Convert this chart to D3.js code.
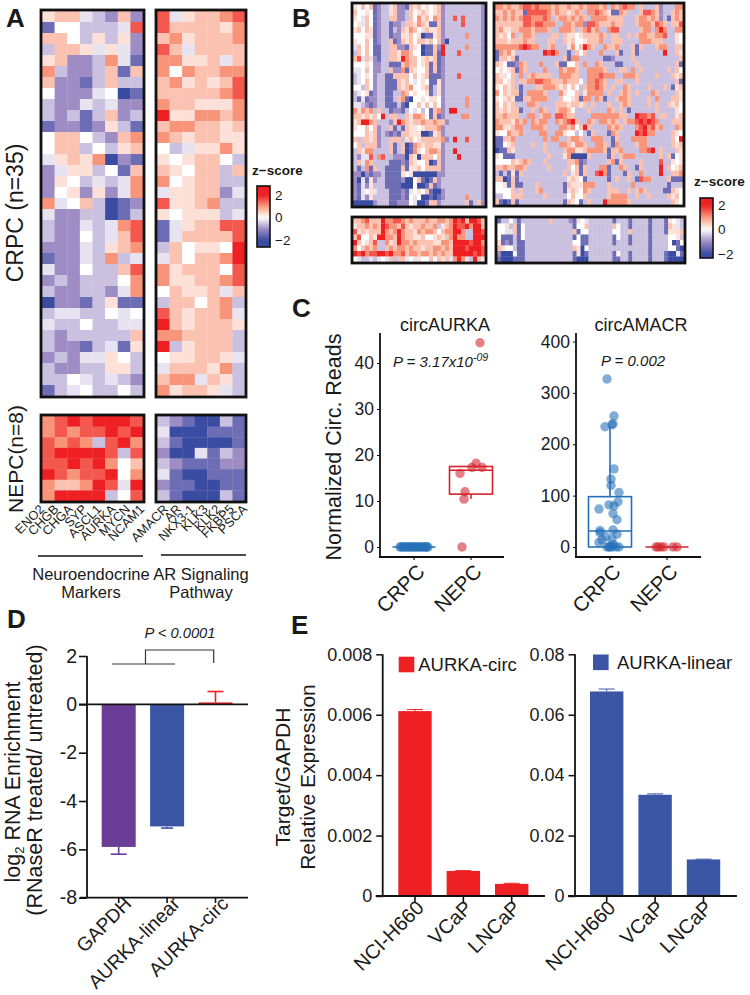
<!DOCTYPE html>
<html><head><meta charset="utf-8">
<script src="https://cdn.jsdelivr.net/npm/d3@7"></script>
<style>html,body{margin:0;padding:0;background:#fff}svg{display:block}text{font-family:"Liberation Sans",Arial,sans-serif;fill:#1a1a1a}</style>
</head><body><svg id="c" width="750" height="995"></svg>
<script>
// z-score levels addressed by one character per heat-map cell (0..a)
const zLevels=[-2,-1.5,-1.0,-0.55,-0.25,0,0.3,0.6,1.05,1.55,2];
const neGenes=["ENO2","CHGB","CHGA","SYP","ASCL1","AURKA","MYCN","NCAM1"];
const arGenes=["AMACR","AR","NKX3-1","KLK3","KLK2","FKBP5","PSCA"];
const aCrpcNe=["67743272","15533349","77536362","37764642","67223841","83223717","72213733","52224501","32243422","32313723","12212631","57753278","57735367","46768021","24663517","26534348","25626248","84573012","42233013","32243489","32253479","22243678","12243834","42253379","23233358","32233248","02213611","34433545","43353344","32333337","32213416","23244653","32233663","33543432","13453353"];
const aCrpcAr=["9467789","9777768","7867778","9747777","8866747","8587788","7867679","7777789","8776668","a668878","7887767","8767766","5346686","6567753","7657737","8567733","4667724","9667833","6566634","1467799","1477779","375665a","475778a","8677759","8667789","5766747","3775783","9767784","a767776","8877773","a367773","5667764","4777683","7884763","8677643"];
const aNepcNe=["89a9aaa9","89899a9a","98983 9a8","9aaaa939","99a9a857","a9899a58","8778a94a","8aaaa359"];
const aNepcAr=["3210031","4000111","3100001","2004132","3211122","4100111","2110011","3100031"];
const bCrpcL=["65757 12336 72217 67565 67233 33333 332","75565 12336 72237 56765 67233 33333 332","65475 12337 72237 58675 87233 93933 332","56475 12331 22377 68761 17233 33933 332","67576 12331 32768 75676 67233 33333 332","55566 12331 22667 56011 67233 33383 332","65575 12337 12767 57767 57203 33333 332","47575 11337 72217 65011 72a33 33383 332","37575 11337 76887 55011 71a33 39333 332","79474 21337 76a87 75676 71233 33333 332","55565 22331 11787 75671 71233 33333 332","44575 22337 22817 65571 71233 33333 332","34565 23311 77775 75671 11233 39333 332","34575 23311 17675 45651 16233 33333 332","55375 23311 17678 55671 36233 33333 332","34561 23311 33875 65561 36233 33333 332","31412 23311 37810 55656 65233 33383 332","44321 23311 13105 57575 75233 33383 332","86878 37331 22135 45351 7823a a3333 332","77676 75a37 73376 88751 71233 33883 332","67aa8 73332 7a876 77877 87723 33333 332","65575 72337 13176 65677 78233 33333 332","55576 72321 21776 66001 67233 33333 332","73776 72337 77367 56777 77823 a3393 332","57377 72337 13701 87677 66233 33333 332","37688 33337 13701 86578 87233 a3333 332","32449 38933 22207 60777 57233 3a333 332","37487 33331 11217 65570 17233 33333 332","31381 73311 11716 67577 77233 33333 332","22021 22311 11656 00000 02233 33333 332","20416 23311 11200 57101 72333 33333 332","21426 33311 11000 50017 12333 33333 332","21456 43331 11214 56571 00233 33333 332","21426 33331 11215 45001 01233 33383 332","00000 23331 12225 40017 72333 33371 372"];
const bNepcL=["77897 77a88 99878 77787 78878 a9a7a a97","67787 87a98 87976 77877 83678 a99a8 aa7","96767 77a87 8a877 68788 75788 aa833 aa9","79557 6aa88 7a877 66755 67678 a8833 aaa","a7567 93386 7a887 87777 66887 aaaa9 aa8","85787 83378 78878 77677 88787 aaa9a aa9","a9a89 9aa9a 88978 87887 87877 aaaaa 9a9","54334 34547 37745 46557 57674 8a843 a74"];
const bCrpcR=["88787 78998 98887 87787 78788 87838 78988 37333 72333 88","77878 77199 99987 87767 87388 98761 18733 37998 72337 87","87878 78998 88983 78878 78738 88877 77333 78878 72317 87","77777 77998 99888 33887 88299 87778 77333 78887 98737 79","78667 78887 88873 38887 37897 83389 93333 37883 8a833 88","76758 37887 33337 73766 56777 78737 73373 78877 88933 65","77767 77877 33377 33767 55677 78337 77333 38887 77333 65","88888 89a98 83378 33368 57a87 33877 83337 17333 78833 77","18786 33333 33a9a 83313 75733 38333 71337 13333 33a33 76","17767 13333 33333 33718 83333 33112 33337 33333 33333 37","76511 28733 38333 71155 73833 87333 11333 73333 33333 71","56567 18733 33833 38788 73388 88733 37738 37333 33373 75","76457 38378 77773 38887 73388 89888 33888 73333 73337 67","77567 37788 99887 77877 75388 98733 77333 73333 33333 71","65767 31333 77888 76757 53788 98737 33873 33373 33731 67","85767 71388 88733 38655 73688 88373 37873 73338 73333 76","65676 11778 88833 37556 71883 87133 78873 33373 83337 76","75767 33388 73333 77767 76737 33373 37873 33373 73376 75","76767 71337 38733 78875 33373 33387 37313 33333 73333 65","77877 73388 37883 99877 33338 88888 87733 a9989 37733 67","87776 87838 78833 8789a 73387 38878 73788 9a9a9 83337 77","88667 88338 88733 38878 57a73 33387 87333 89a89 78333 87","65587 78333 38833 88655 35317 33318 73333 a9a88 33337 65","11778 33333 33838 83378 87338 88331 73338 88833 33337 5a","11567 33337 33733 38876 88733 88731 83333 78833 33337 67","01176 33333 33733 33788 66788 88717 78333 3889a 37333 76","65111 33333 33373 33680 00073 33317 37888 33333 37371 56","55557 67873 33733 33377 81233 33378 17333 37333 39336 56","77877 88733 33373 33375 71733 38813 38733 17333 3a375 67","31316 17333 33333 33736 71733 9a813 33173 38333 3a337 78","77017 13333 33333 33367 65133 33313 73373 19883 33371 11","55617 11333 73333 33176 66888 33373 33338 33333 33313 33","55557 37333 78333 33167 65873 33377 73373 78733 33117 65","33557 77333 33733 33357 55733 33378 88833 73373 33376 75","71017 13333 33333 33176 51373 33a88 88873 33333 33337 65"];
const bNepcR=["13353 13333 33373 33321 65433 33331 33313 33313 33165 43","55637 15333 33333 33331 55733 33337 53313 33313 33176 43","55447 15333 33333 33337 15533 33335 53373 33313 33166 67","51113 15333 33333 33331 51133 33331 53313 33313 33355 63","61213 11333 33333 33335 51133 33331 33313 33313 33350 15","76553 11333 33333 33337 60533 33333 33333 33313 33355 10","20005 11333 33333 33331 60133 33331 53313 33313 33100 41","10001 11333 33333 33331 00033 33331 13313 33313 33100 00"];
const boxGroups=["CRPC","NEPC"];
const auNepc=[44.4,18.2,17.3,17.3,16,12,10.4,0];
const auNepcJitter=[9,5,1,11,-11,-6,-7,-9];
const auCrpcJitter=[-14,-13,-11,-10,-8,-7,-5,-4,-2,-1,0,2,3,5,6,8,9,11,12,13,14];
const amCrpc=[327,255,240,238,234,152,132,120,106,88,82,80,74,65,53,33,32,28,25,20,15,14,9,5,0,0,0,0,0,0];
const amCrpcJitter=[-3,4,3,2,-5,4,1,1,9,8,-1,4,-11,3,7,3,-10,-10,7,-4,2,-8,-11,3,-3,-1,0,2,6,9];
const amNepcJitter=[-11,-9,-6,-3,6,10];
const auBoxes=[{q1:0,med:0,q3:0,lo:0,hi:0},{q1:11.5,med:16.7,q3:17.5,lo:10.5,hi:17.5}];
const amBoxes=[{q1:0,med:31,q3:98,lo:0,hi:235},{q1:0,med:0,q3:0,lo:0,hi:0}];
const dCats=["GAPDH","AURKA-linear","AURKA-circ"];
const dVals=[-5.9,-5.05,0.08];
const dErr=[-6.2,-5.12,0.53];
const dTicks=[2,0,-2,-4,-6,-8];
const eCats=["NCI-H660","VCaP","LNCaP"];
const eCirc=[0.00612,0.00083,0.0004];
const eCircErr=[0.00617,0.00084,0.00042];
const eLin=[0.0677,0.0335,0.0121];
const eLinErr=[0.0685,0.0338,0.0122];
const eCircTicks=[0,0.002,0.004,0.006,0.008];
const eLinTicks=[0,0.02,0.04,0.06,0.08];

const RED="#ee2024",PUR="#6a3d96",BLU="#3a55a4",CB="#2470b8",CR="#d3232c";
const svg=d3.select("#c");
const color=d3.scaleLinear().domain([-2,-1,0,1,2]).range(["#3a4ca2","#9e8dc5","#ffffff","#f99a7e","#ee2024"]).clamp(true);
const parse=rows=>rows.map(r=>r.replace(/ /g,"").split("").map(c=>zLevels[parseInt(c,16)]));

function heat(rows,x0,x1,y0,y1){
  const m=parse(rows),nc=d3.max(m,r=>r.length);
  const x=d3.scaleBand(d3.range(nc),[x0,x1]),y=d3.scaleBand(d3.range(m.length),[y0,y1]);
  const g=svg.append("g");
  m.forEach((r,i)=>g.selectAll(null).data(r).join("rect").attr("x",(d,j)=>x(j)).attr("y",y(i))
    .attr("width",x.bandwidth()+.3).attr("height",y.bandwidth()+.3).attr("fill",d=>color(d)));
  g.append("rect").attr("x",x0-1).attr("y",y0-1).attr("width",x1-x0+2).attr("height",y1-y0+2)
   .attr("fill","none").attr("stroke","#111").attr("stroke-width",2.8);
}
heat(aCrpcNe,42,143,11,396);
heat(aCrpcAr,157,245,11,396);
heat(aNepcNe.map(s=>s.replace(" ","")),42,143,416,501);
heat(aNepcAr,157,245,416,501);
heat(bCrpcL,353,485,4,206);
heat(bCrpcR,495,683,4,205);
heat(bNepcL,353,485,218,262);
heat(bNepcR,497,684,218,262);

function txt(x,y,s,o={}){
  const t=svg.append("text").attr("x",x).attr("y",y).text(s)
    .attr("font-size",o.size||16).attr("text-anchor",o.anchor||"middle");
  if(o.weight)t.attr("font-weight",o.weight);
  if(o.italic)t.attr("font-style","italic");
  if(o.rot!==undefined)t.attr("transform",`rotate(${o.rot} ${x} ${y})`);
  return t;
}
[["A",6,27],["B",292,27],["C",292,317],["D",7,628],["E",291,634]].forEach(d=>txt(d[1],d[2],d[0],{size:26,weight:700,anchor:"start"}));
txt(23,213,"CRPC (n=35)",{size:23,rot:-90});
txt(23,459,"NEPC(n=8)",{size:21,rot:-90});
const neX=d3.scalePoint(neGenes,[45,145]),arX=d3.scalePoint(arGenes,[169,248]);
neGenes.forEach(g=>txt(neX(g),510,g,{size:12.8,anchor:"end",rot:-45}));
arGenes.forEach(g=>txt(arX(g),510,g,{size:12.8,anchor:"end",rot:-45}));
const line=(a,b,c,d,col="#111",w=1.5)=>svg.append("line").attr("x1",a).attr("y1",b).attr("x2",c).attr("y2",d).attr("stroke",col).attr("stroke-width",w);
line(38,556,143,556);line(161,555,246,555);
txt(91,580,"Neuroendocrine",{size:16.5});txt(91,598,"Markers",{size:16.5});
txt(201,580,"AR Signaling",{size:16.5});txt(201,598,"Pathway",{size:16.5});

// colour bars
const defs=svg.append("defs");
function cbar(id,x,y0,y1,zTop,zBot,tx,ty){
  const z=d3.scaleLinear([zTop,zBot],[y0,y1]);
  const gr=defs.append("linearGradient").attr("id",id).attr("x1",0).attr("x2",0).attr("y1",0).attr("y2",1);
  d3.range(0,1.001,.05).forEach(t=>gr.append("stop").attr("offset",t).attr("stop-color",color(zTop+(zBot-zTop)*t)));
  svg.append("rect").attr("x",x).attr("y",y0).attr("width",13).attr("height",y1-y0).attr("fill",`url(#${id})`).attr("stroke","#111").attr("stroke-width",1.6);
  const a=svg.append("g").attr("transform",`translate(${x+13},0)`).call(d3.axisRight(z).tickValues([2,0,-2]).tickSize(0).tickPadding(5).tickFormat(d=>d<0?"\u2212"+(-d):d));
  a.select(".domain").remove();a.selectAll("text").attr("font-size",13.5);
  txt(tx,ty,"z\u2212score",{size:13.5,weight:700,anchor:"start"});
}
cbar("cbA",257,186,247,2.8,-2.6,252,175);
cbar("cbB",700,198,258,2.6,-2.35,694,186);

// panel C
function boxPanel(o){
  const y=d3.scaleLinear(o.dom,[547,o.top]);
  const x=d3.scalePoint(boxGroups,[o.xa,o.xb]);
  const ax=svg.append("g").attr("transform",`translate(${o.x0},0)`).call(d3.axisLeft(y).tickValues(o.ticks).tickSize(3).tickPadding(3));
  ax.select(".domain").remove();ax.selectAll("text").attr("font-size",17.5);ax.selectAll("line").attr("stroke","#111");
  line(o.x0,333,o.x0,557,"#111",1.8);line(o.x0-1,557,o.x1,557,"#111",1.8);
  boxGroups.forEach(g=>{line(x(g),557,x(g),560,"#111",1.2);
    txt(x(g)+12,573,g,{size:20.5,anchor:"end",rot:-45});});
  o.boxes.forEach((b,i)=>{
    const cx=x(boxGroups[i]),c=[CB,CR][i];
    const hw=21.5;
    svg.append("rect").attr("x",cx-hw).attr("width",2*hw).attr("y",y(b.q3)).attr("height",Math.max(0,y(b.q1)-y(b.q3))).attr("fill","none").attr("stroke",c).attr("stroke-width",1.6);
    line(cx-hw,y(b.med),cx+hw,y(b.med),c,1.6);
    line(cx,y(b.q3),cx,y(b.hi),c,1.6);line(cx,y(b.q1),cx,y(b.lo),c,1.6);
  });
  o.pts.forEach(p=>{
    const cx=x(p.g),c=p.g=="CRPC"?CB:CR;
    svg.append("g").selectAll("circle").data(p.v).join("circle").attr("cx",(d,i)=>cx+p.j[i]).attr("cy",d=>y(d)).attr("r",4.7).attr("fill",c).attr("fill-opacity",.58);
  });
  txt((o.xa+o.xb)/2+o.titleDx,331,o.title,{size:18});
}
boxPanel({dom:[0,40],top:363,ticks:[0,10,20,30,40],x0:380,x1:504,xa:414,xb:471,boxes:auBoxes,title:"circAURKA",titleDx:2.5,
  pts:[{g:"CRPC",v:auCrpcJitter.map(()=>0),j:auCrpcJitter},{g:"NEPC",v:auNepc,j:auNepcJitter}]});
boxPanel({dom:[0,400],top:341.5,ticks:[0,100,200,300,400],x0:576,x1:701,xa:610,xb:667,boxes:amBoxes,title:"circAMACR",titleDx:2.5,
  pts:[{g:"CRPC",v:amCrpc,j:amCrpcJitter},{g:"NEPC",v:amNepcJitter.map(()=>0),j:amNepcJitter}]});
txt(341,447,"Normalized Circ. Reads",{size:21.5,rot:-90});
const p1=txt(393,367,"P = 3.17x10",{size:15,anchor:"start",italic:true});
p1.append("tspan").attr("dy",-6).attr("font-size",10.5).text("-09");
txt(601,366,"P = 0.002",{size:15,anchor:"start",italic:true});

// panel D
const dy=d3.scaleLinear([2,-8],[656,897.7]);
const dx=d3.scalePoint(dCats,[118.7,215.5]);
const dax=svg.append("g").attr("transform","translate(87,0)").call(d3.axisLeft(dy).tickValues(dTicks).tickSize(8).tickPadding(2).tickFormat(d=>d));
dax.select(".domain").remove();dax.selectAll("line").attr("stroke","#111").attr("stroke-width",1.6);dax.selectAll("text").attr("font-size",19.5);
const dCol=[PUR,BLU,RED];
dCats.forEach((c,i)=>{
  const cx=dx(c),v=dVals[i],hw=17;
  svg.append("rect").attr("x",cx-hw).attr("width",2*hw).attr("y",Math.min(dy(v),dy(0))).attr("height",Math.abs(dy(v)-dy(0))).attr("fill",dCol[i]);
  line(cx,dy(v),cx,dy(dErr[i]),dCol[i],1.6);
  const cap=i==1?6:8;line(cx-cap,dy(dErr[i]),cx+cap,dy(dErr[i]),dCol[i],1.6);
  line(cx,897.7,cx,903,"#111",1.6);
  txt(cx+14,905,c,{size:19.3,anchor:"end",rot:-45});
});
line(87,656,87,898,"#111",1.8);line(79,dy(0),248,dy(0),"#111",1.8);line(80,897.7,248,897.7,"#111",1.8);
line(112,664,175,664,"#333",1.2);
svg.append("path").attr("d","M145.5 664V650H213.7V663").attr("fill","none").attr("stroke","#333").attr("stroke-width",1.2);
txt(180,638,"P < 0.0001",{size:14.7,italic:true});
const dl=txt(20,782,"log",{size:21.5,rot:-90});
dl.append("tspan").attr("dy",4).attr("font-size",13).text("2");
dl.append("tspan").attr("dy",-4).text(" RNA Enrichment");
txt(42,780,"(RNaseR treated/ untreated)",{size:21.5,rot:-90});

// panel E
function ePanel(o){
  const y=d3.scaleLinear(o.dom,[896,654.3]);
  const x=d3.scalePoint(eCats,[o.xa,o.xb]);
  const ax=svg.append("g").attr("transform",`translate(${o.x0},0)`).call(d3.axisLeft(y).tickValues(o.ticks).tickSize(6.5).tickPadding(4).tickFormat(d=>d===0?"0":d3.format(o.fmt)(d)));
  ax.select(".domain").remove();ax.selectAll("line").attr("stroke","#111").attr("stroke-width",1.5);ax.selectAll("text").attr("font-size",18);
  eCats.forEach((c,i)=>{
    const cx=x(c);
    svg.append("rect").attr("x",cx-16.7).attr("width",33.4).attr("y",y(o.vals[i])).attr("height",896-y(o.vals[i])).attr("fill",o.col);
    line(cx,y(o.err[i]),cx,y(o.vals[i]),o.col,1);
    line(cx-8,y(o.err[i]),cx+8,y(o.err[i]),o.col,1);
    line(cx,896,cx,902,"#111",1.6);
    txt(cx+10,909,c,{size:20,anchor:"end",rot:-45});
  });
  line(o.x0,654.3,o.x0,896,"#111",1.8);line(o.x0-7,896,o.x1,896,"#111",1.8);
  svg.append("rect").attr("x",o.lx).attr("y",o.ly).attr("width",15.6).attr("height",15.6).attr("fill",o.col);
  txt(o.lx+(o.lgap),o.ly+14,o.name,{size:18.5,anchor:"start"});
}
ePanel({dom:[0,0.008],ticks:eCircTicks,fmt:".3f",x0:382.7,x1:545,xa:415,xb:511.7,vals:eCirc,err:eCircErr,col:RED,lx:398.7,ly:656.7,lgap:19.5,name:"AURKA-circ"});
ePanel({dom:[0,0.08],ticks:eLinTicks,fmt:".2f",x0:575,x1:737,xa:606.7,xb:703.5,vals:eLin,err:eLinErr,col:BLU,lx:593,ly:654.5,lgap:24,name:"AURKA-linear"});
txt(290,777,"Target/GAPDH",{size:21,rot:-90});
txt(315,777,"Relative Expression",{size:21,rot:-90});
</script></body></html>
